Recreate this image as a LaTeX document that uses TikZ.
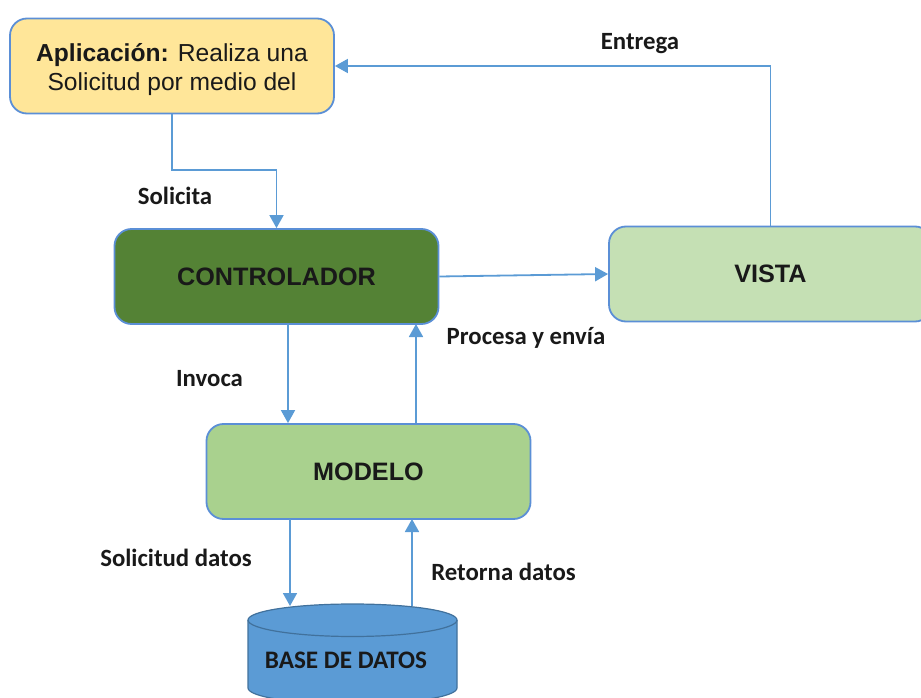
\documentclass[tikz,border=0pt]{standalone}
\usepackage{fontspec}
\setmainfont{Liberation Sans}
\newfontfamily\labfont{Carlito}
\usetikzlibrary{arrows.meta}
\definecolor{arrowblue}{HTML}{5B9BD5}
\definecolor{edgeblue}{HTML}{5B8FD6}
\definecolor{dbedge}{HTML}{41719C}
\definecolor{appfill}{HTML}{FFE699}
\definecolor{ctlfill}{HTML}{548235}
\definecolor{vistafill}{HTML}{C5E0B4}
\definecolor{modfill}{HTML}{A9D18E}
\tikzset{
  x=1pt,y=-1pt,
  boxnode/.style={draw=edgeblue,line width=1.8pt,rounded corners=17pt,minimum width=324pt,minimum height=95pt,inner sep=0pt,align=center,font=\fontsize{24.6}{29}\selectfont,text=black!90},
  titlenode/.style={font=\fontsize{25.2}{29}\selectfont\bfseries},
  lab/.style={font=\labfont\fontsize{24.8}{28}\selectfont\bfseries,inner sep=0pt,text=black!90},
  conn/.style={draw=arrowblue,line width=1.8pt,-{Triangle[length=13pt,width=14pt]}},
  dbshape/.style={draw=dbedge,line width=1.2pt,fill=arrowblue}
}
\begin{document}
\begin{tikzpicture}
\useasboundingbox (0,0) rectangle (921,698);
\clip (0,0) rectangle (921,698);
\node[boxnode,fill=appfill] (app) at (172,66) {\rule{0pt}{25pt}\textbf{Aplicación:} Realiza una\\Solicitud por medio del};
\node[boxnode,fill=ctlfill,titlenode] (ctl) at (276.5,276.5) {CONTROLADOR};
\node[boxnode,fill=vistafill,titlenode,minimum width=323pt] (vista) at (770.5,274) {VISTA};
\node[boxnode,fill=modfill,titlenode] (mod) at (368.5,471.5) {MODELO};
\path[dbshape] (248,620) -- (248,688) .. controls (248,697) and (295,704) .. (352.5,704) .. controls (410,704) and (457,697) .. (457,688) -- (457,620) .. controls (457,611) and (410,604) .. (352.5,604) .. controls (295,604) and (248,611) .. (248,620) -- cycle;
\draw[draw=dbedge,line width=1.2pt] (248,620) .. controls (248,629) and (295,636.5) .. (352.5,636.5) .. controls (410,636.5) and (457,629) .. (457,620);
\node[font=\labfont\fontsize{25.2}{28}\selectfont\bfseries,text=black!90,inner sep=0pt] (dbtext) at (346,660) {BASE DE DATOS};
\coordinate (midapp) at (172,170);
\coordinate (ctlin) at (288,324);
\coordinate (ctlback) at (416,324);
\coordinate (modout) at (290,519);
\coordinate (modin) at (412,519);
\coordinate (dbin) at (290,606);
\coordinate (dbout) at (412,606);
\draw[conn] (app.south) -- (midapp) -| (ctl.north);
\draw[conn] (vista.north) |- (app.east);
\draw[conn] (ctl.east) -- (vista.west);
\draw[conn] (ctlin) -- (ctlin |- mod.north);
\draw[conn] (ctlback |- mod.north) -- (ctlback);
\draw[conn] (modout) -- (dbin);
\draw[conn] (dbout) -- (modin);
\node[lab] (l1) at (175,195.5) {Solicita};
\node[lab] (l2) at (640,44) {Entrega};
\node[lab] (l3) at (526,338) {Procesa y envía};
\node[lab] (l4) at (209.5,378.5) {Invoca};
\node[lab] (l5) at (176,558) {Solicitud datos};
\node[lab] (l6) at (503.5,572) {Retorna datos};
\end{tikzpicture}
\end{document}
